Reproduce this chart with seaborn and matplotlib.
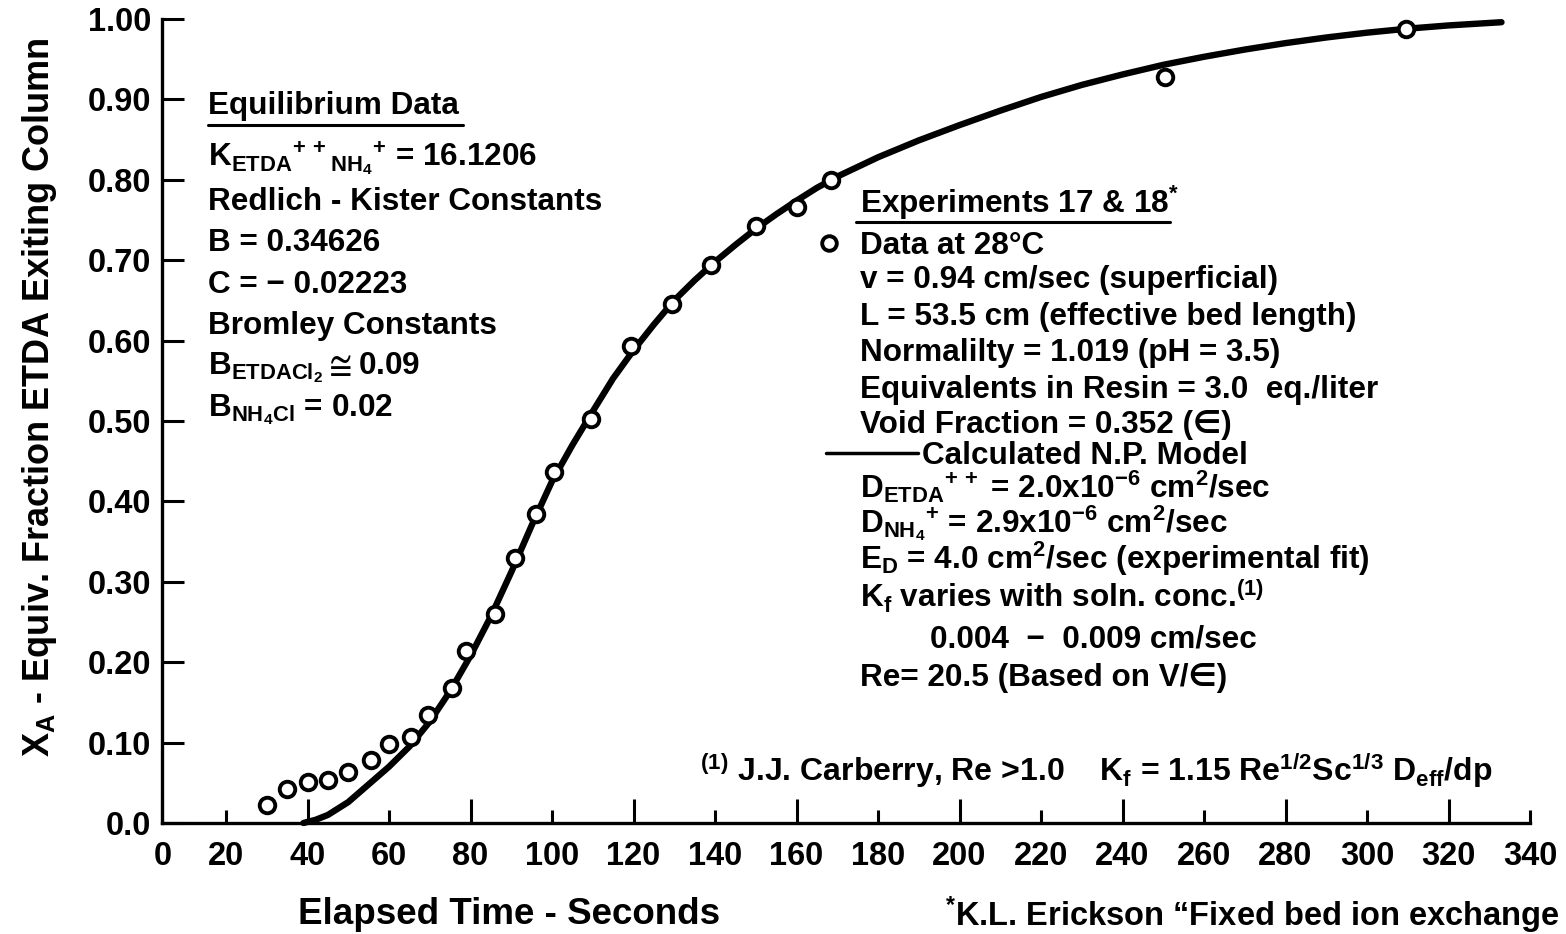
import matplotlib
matplotlib.use("Agg")
import matplotlib.pyplot as plt
from matplotlib.lines import Line2D
import seaborn as sns

# Measured breakthrough data, Experiments 17 & 18 (data at 28 C)
time_s = [30, 35, 40, 45, 50, 55.5, 60, 65.5, 69.5, 75.5, 79, 86, 91, 96,
          100.5, 109.5, 119.5, 129.5, 139, 150, 160, 168.5, 250.5, 309.5]
frac_etda = [0.022, 0.042, 0.051, 0.053, 0.064, 0.078, 0.098, 0.107, 0.134,
             0.168, 0.214, 0.260, 0.330, 0.384, 0.436, 0.503, 0.593, 0.646,
             0.694, 0.743, 0.766, 0.800, 0.928, 0.988]

# Calculated N.P. model breakthrough curve
model_t = [39, 42, 45, 50, 55, 60, 65, 70, 75, 80, 85, 90, 95, 100, 105, 110,
           115, 120, 125, 130, 135, 140, 145, 150, 155, 160, 165, 170, 180,
           190, 200, 210, 220, 230, 240, 250, 260, 270, 280, 290, 300, 310,
           320, 333]
model_x = [0.0, 0.004, 0.010, 0.026, 0.048, 0.070, 0.095, 0.126, 0.164, 0.208,
           0.257, 0.312, 0.370, 0.425, 0.470, 0.512, 0.553, 0.588, 0.620,
           0.650, 0.675, 0.698, 0.719, 0.739, 0.757, 0.774, 0.790, 0.804,
           0.828, 0.849, 0.868, 0.886, 0.903, 0.918, 0.931, 0.943, 0.953,
           0.962, 0.970, 0.977, 0.983, 0.988, 0.992, 0.996]

x_major = [4.4, 40, 80, 120, 160, 200, 240, 280, 320]
x_major_labels = ["0", "40", "80", "120", "160", "200", "240", "280", "320"]
x_minor = [20, 60, 100, 140, 180, 220, 260, 300, 340]
x_minor_labels = ["20", "60", "100", "140", "180", "220", "260", "300", "340"]
y_ticks = [0.0, 0.1, 0.2, 0.3, 0.4, 0.5, 0.6, 0.7, 0.8, 0.9, 1.0]
y_tick_labels = ["0.0", "0.10", "0.20", "0.30", "0.40", "0.50", "0.60",
                 "0.70", "0.80", "0.90", "1.00"]

sns.set_theme(style="white")
plt.rcParams["font.family"] = ["Liberation Sans", "DejaVu Sans"]
plt.rcParams["font.weight"] = "bold"
plt.rcParams["mathtext.fontset"] = "custom"
plt.rcParams["mathtext.rm"] = "Liberation Sans:bold"
plt.rcParams["mathtext.it"] = "Liberation Sans:bold"
plt.rcParams["mathtext.bf"] = "Liberation Sans:bold"
plt.rcParams["mathtext.sf"] = "Liberation Sans:bold"
plt.rcParams["mathtext.default"] = "rm"
plt.rcParams["mathtext.fallback"] = "stixsans"
plt.rcParams["text.color"] = "black"
plt.rcParams["axes.labelcolor"] = "black"

W, H = 1566, 934
fig = plt.figure(figsize=(W / 100, H / 100), dpi=100)
fig.patch.set_facecolor("white")
ax = fig.add_axes([144.5 / W, 1 - 823 / H, (1530 - 144.5) / W, (823 - 19) / H])
ax.set_facecolor("white")

sns.lineplot(x=model_t, y=model_x, ax=ax, color="black", linewidth=4.6,
             sort=False, estimator=None, clip_on=False)
sns.scatterplot(x=time_s, y=frac_etda, ax=ax, marker="o", s=125,
                color="white", edgecolor="black", linewidth=2.8, zorder=3,
                clip_on=False)

ax.set_xlim(0, 340)
ax.set_ylim(0, 1.0)
for side in ("top", "right"):
    ax.spines[side].set_visible(False)
ax.spines["left"].set_position(("data", x_major[0]))
ax.spines["bottom"].set_bounds(x_major[0], 340)
for side in ("left", "bottom"):
    ax.spines[side].set_color("black")
    ax.spines[side].set_linewidth(2.4)

ax.set_xticks(x_major, x_major_labels)
ax.set_xticks(x_minor, x_minor_labels, minor=True)
ax.set_yticks(y_ticks, y_tick_labels)
ax.tick_params(axis="x", which="major", direction="in", length=17, width=2.2,
               pad=13, labelsize=23.5, colors="black", bottom=True)
ax.tick_params(axis="x", which="minor", direction="in", length=9.5, width=2.2,
               pad=13, labelsize=23.5, colors="black", bottom=True)
ax.tick_params(axis="y", which="major", direction="in", length=16, width=2.2,
               pad=8, labelsize=23.5, colors="black", left=True)
for lbl in ax.get_xticklabels(which="both") + ax.get_yticklabels():
    lbl.set_fontweight("bold")

ax.set_xlabel("Elapsed Time - Seconds", fontsize=26.5, fontweight="bold",
              color="black")
ax.xaxis.set_label_coords((509 - 144.5) / (1530 - 144.5), (823 - 915) / 804)
ax.xaxis.label.set_va("center")
ax.set_ylabel("X$_A$ - Equiv. Fraction ETDA Exiting Column", fontsize=26,
              fontweight="bold", color="black")
ax.yaxis.set_label_coords((40 - 144.5) / (1530 - 144.5), (823 - 397) / 804)
ax.yaxis.label.set_va("center")
ax.yaxis.label.set_rotation_mode("default")


def put(xp, yp, s, size=22.7):
    fig.text(xp / W, 1 - yp / H, s, fontsize=size, fontweight="bold",
             ha="left", va="baseline", color="black")


def hline(x1, x2, yp, lw):
    fig.add_artist(Line2D([x1 / W, x2 / W], [1 - yp / H, 1 - yp / H],
                          color="black", linewidth=lw,
                          transform=fig.transFigure))


# Equilibrium data block
left_lines = [
    "Equilibrium Data",
    "K$_{ETDA}$$^{+\\,+}$$_{NH_4}$$^{+}$ = 16.1206",
    "Redlich - Kister Constants",
    "B = 0.34626",
    "C = \u2212 0.02223",
    "Bromley Constants",
    "B$_{ETDACl_2}$$\\cong$0.09",
    "B$_{NH_4Cl}$ = 0.02",
]
left_base = [114, 166, 210, 251, 293, 334, 374, 416]
for s, yb in zip(left_lines, left_base):
    put(208, yb, s)
hline(208, 463, 125, 2.2)

# Experiment / model block
right_lines = [
    "Experiments 17 & 18$^{*}$",
    "Data at 28\u00b0C",
    "v = 0.94 cm/sec (superficial)",
    "L = 53.5 cm (effective bed length)",
    "Normalilty = 1.019 (pH = 3.5)",
    "Equivalents in Resin = 3.0  eq./liter",
    "Void Fraction = 0.352 (\u2208)",
    "Calculated N.P. Model",
    "D$_{ETDA}$$^{+\\,+}$ = 2.0x10$^{-6}$ cm$^{2}$/sec",
    "D$_{NH_4}$$^{+}$ = 2.9x10$^{-6}$ cm$^{2}$/sec",
    "E$_{D}$ = 4.0 cm$^{2}$/sec (experimental fit)",
    "K$_{f}$ varies with soln. conc.$^{(1)}$",
    "0.004  \u2212  0.009 cm/sec",
    "Re= 20.5 (Based on V/\u2208)",
]
right_x = [860, 860, 860, 860, 860, 860, 860, 922, 860, 860, 860, 860, 930, 860]
right_base = [213, 254, 288, 325, 361, 398, 433, 464, 498, 532, 569, 608, 647, 686]
for s, xp, yb in zip(right_lines, right_x, right_base):
    put(xp, yb, s)
hline(856, 1170, 222, 2.2)
hline(826, 918, 453, 2.5)
fig.add_artist(Line2D([829 / W], [1 - 243 / H], marker="o", markersize=10.5,
                      markerfacecolor="white", markeredgecolor="black",
                      markeredgewidth=2.8, linestyle="none",
                      transform=fig.transFigure))

# Mass-transfer correlation reference
put(700, 781, "$^{(1)}$ J.J. Carberry, Re >1.0    K$_{f}$ = 1.15 Re$^{1/2}$Sc$^{1/3}$ D$_{eff}$/dp",
    size=23)

# Source footnote
put(945, 926, "$^{*}$K.L. Erickson \u201cFixed bed ion exchange", size=23.5)

fig.savefig("out.png", dpi=100, facecolor="white")
